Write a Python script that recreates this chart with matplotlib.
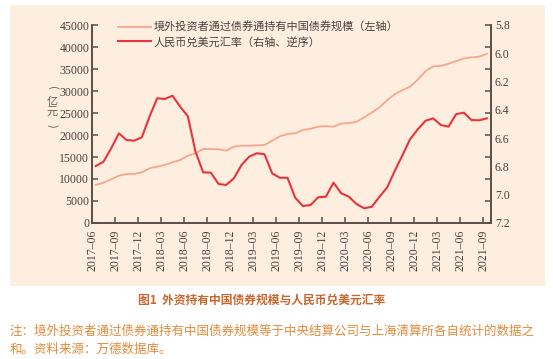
import numpy as np
import matplotlib.pyplot as plt
from matplotlib.patches import Rectangle

plt.rcParams['font.family'] = ['Noto Sans CJK SC', 'DejaVu Sans']

# months 2017-06 .. 2021-09
months = ["2017-06", "2017-07", "2017-08", "2017-09", "2017-10", "2017-11", "2017-12",
          "2018-01", "2018-02", "2018-03", "2018-04", "2018-05", "2018-06", "2018-07",
          "2018-08", "2018-09", "2018-10", "2018-11", "2018-12", "2019-01", "2019-02",
          "2019-03", "2019-04", "2019-05", "2019-06", "2019-07", "2019-08", "2019-09",
          "2019-10", "2019-11", "2019-12", "2020-01", "2020-02", "2020-03", "2020-04",
          "2020-05", "2020-06", "2020-07", "2020-08", "2020-09", "2020-10", "2020-11",
          "2020-12", "2021-01", "2021-02", "2021-03", "2021-04", "2021-05", "2021-06",
          "2021-07", "2021-08", "2021-09"]

# bond connect holdings, 100 million yuan (left axis)
bond = [8640, 9160, 9930, 10750, 11140, 11140, 11520, 12430, 12800, 13180,
        13800, 14320, 15300, 15840, 16820, 16820, 16750, 16430, 17340, 17570,
        17570, 17650, 17730, 18700, 19700, 20230, 20390, 21140, 21400, 21900,
        22000, 21900, 22600, 22700, 23000, 24000, 25100, 26300, 27900, 29300,
        30200, 31000, 32600, 34500, 35600, 35700, 36200, 36800, 37400, 37650,
        37800, 38450]

# USD/CNY (right axis, reversed)
fx = [6.797, 6.767, 6.672, 6.566, 6.613, 6.618, 6.594, 6.448, 6.318, 6.323,
      6.300, 6.378, 6.445, 6.696, 6.842, 6.844, 6.924, 6.931, 6.884, 6.790,
      6.731, 6.707, 6.714, 6.849, 6.880, 6.880, 7.021, 7.080, 7.073, 7.018,
      7.014, 6.915, 6.990, 7.014, 7.066, 7.096, 7.085, 7.014, 6.948, 6.830,
      6.720, 6.606, 6.537, 6.477, 6.460, 6.507, 6.519, 6.430, 6.420, 6.472,
      6.474, 6.460]

left_ticks = np.arange(0, 45001, 5000)
right_labels = [5.8, 6.0, 6.2, 6.4, 6.6, 6.8, 7.0, 7.2]

bg = '#fdeee0'
axis_col = '#5b4d47'
txt_col = '#4a403c'
num_font = 'Liberation Serif'

fig = plt.figure(figsize=(5.53, 3.59), dpi=100)
W, H = 553, 359
fig.patches.append(Rectangle((10 / W, 1 - 286 / H), 535 / W, 281 / H,
                             transform=fig.transFigure, facecolor=bg,
                             edgecolor='none', zorder=-10))

ax = fig.add_axes([92 / W, 1 - 223 / H, 398.7 / W, 198 / H])
ax.set_facecolor('none')
ax2 = ax.twinx()

x = np.arange(len(months)) + 0.5
l1, = ax.plot(x, bond, color='#f6a78e', lw=1.3,
              label='境外投资者通过债券通持有中国债券规模（左轴）')
l2, = ax2.plot(x, fx, color='#e8353b', lw=1.5,
               label='人民币兑美元汇率（右轴、逆序）')

ax.set_xlim(0, len(months))
ax.set_ylim(0, 45000)
ax.set_yticks(left_ticks)
ax.set_yticklabels([str(v) for v in left_ticks], fontfamily=num_font,
                   fontsize=8.5, color=txt_col)
tick_pos = np.arange(0, len(months), 3)
ax.set_xticks(tick_pos)
ax.set_xticklabels([months[i].replace('-', '–') for i in tick_pos],
                   rotation=90, fontfamily=num_font, fontsize=8.5, color=txt_col)

# right axis: tick marks follow the left grid, labels every 0.2
ax2.yaxis.remove_overlapping_locs = False
ax2.set_ylim(7.2, 5.8)
ax2.set_yticks(np.linspace(5.8, 7.2, 10))
ax2.set_yticklabels([])
ax2.set_yticks(right_labels, minor=True)
ax2.set_yticklabels([f'{v:.1f}' for v in right_labels], minor=True,
                    fontfamily=num_font, fontsize=8.5, color=txt_col)
ax2.tick_params(axis='y', which='minor', length=0, pad=3)

for a in (ax, ax2):
    a.spines['top'].set_visible(False)
    for s in ('left', 'right', 'bottom'):
        a.spines[s].set_color(axis_col)
        a.spines[s].set_linewidth(1.2)
    a.tick_params(which='major', direction='in', length=4, width=1.1,
                  color=axis_col, pad=2)
ax.tick_params(axis='x', pad=5)

# vertical unit label
fig.text(52 / W, 1 - 88 / H, '(', rotation=-90, ha='center', va='center',
         fontsize=8, color='#6b5d55')
fig.text(52 / W, 1 - 107 / H, '亿\n元', ha='center', va='center',
         fontsize=8, color='#6b5d55', linespacing=1.0)
fig.text(52 / W, 1 - 126 / H, ')', rotation=-90, ha='center', va='center',
         fontsize=8, color='#6b5d55')

leg = ax.legend(handles=[l1, l2], loc='upper left', bbox_to_anchor=(0.055, 1.04),
                frameon=False, fontsize=8, handlelength=2.9, handletextpad=0.3,
                labelspacing=0.35, borderaxespad=0)
for t in leg.get_texts():
    t.set_color(txt_col)

fig.text(262 / W, 1 - 300 / H, '图1  外资持有中国债券规模与人民币兑美元汇率',
         ha='center', va='center', fontsize=8.5, fontweight='bold', color='#c9662c')
fig.text(10 / W, 1 - 331 / H,
         '注：境外投资者通过债券通持有中国债券规模等于中央结算公司与上海清算所各自统计的数据之',
         ha='left', va='center', fontsize=9, color='#e48a3a')
fig.text(10 / W, 1 - 349 / H, '和。资料来源：万德数据库。',
         ha='left', va='center', fontsize=9, color='#e48a3a')

fig.savefig('out.png', dpi=100)
